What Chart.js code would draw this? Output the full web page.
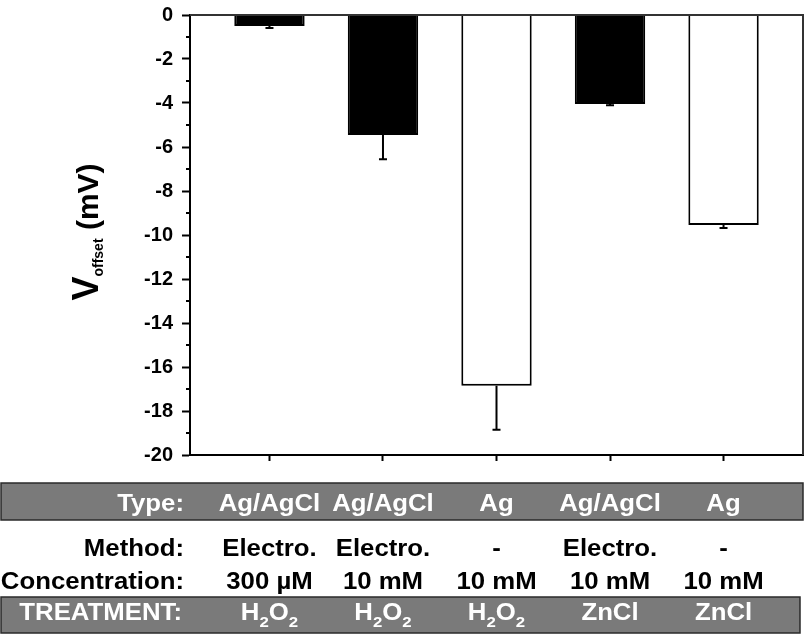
<!DOCTYPE html>
<html>
<head>
<meta charset="utf-8">
<script src="https://cdn.jsdelivr.net/npm/chart.js@4.4.0/dist/chart.umd.min.js"></script>
<style>
  html, body { margin: 0; padding: 0; background: #fff; }
</style>
</head>
<body>
<canvas id="bars" width="806" height="637"></canvas>
<script>
// bar positions on the x scale and their values (mV)
const positions = [1, 2, 3, 4, 5];
const offsets = [-0.5, -5.45, -16.85, -4.05, -9.55];
const errors = [0.09, 1.11, 2.0, 0.05, 0.13];
const barFills = ['#000', '#000', '#fff', '#000', '#fff'];

// table under the chart
const typeRow = ['Ag/AgCl', 'Ag/AgCl', 'Ag', 'Ag/AgCl', 'Ag'];
const methodRow = ['Electro.', 'Electro.', '-', 'Electro.', '-'];
const concRow = ['300 µM', '10 mM', '10 mM', '10 mM', '10 mM'];
const treatRow = ['H2O2', 'H2O2', 'H2O2', 'ZnCl', 'ZnCl'];

const FONT = '"Liberation Sans", Arial, sans-serif';
const SX = 1.12; // source text is a bit wide

function wideText(ctx, txt, x, y, align) {
    ctx.save();
    ctx.translate(x, y);
    ctx.scale(SX, 1);
    ctx.textAlign = align;
    ctx.fillText(txt, 0, 0);
    ctx.restore();
}

// chemical formula: digits drawn as subscripts
function formula(ctx, txt, cx, y) {
    const big = 'bold 23px ' + FONT, small = 'bold 15px ' + FONT;
    let w = 0;
    for (const ch of txt) {
        ctx.font = /\d/.test(ch) ? small : big;
        w += ctx.measureText(ch).width * SX;
    }
    let x = cx - w / 2;
    for (const ch of txt) {
        const sub = /\d/.test(ch);
        ctx.font = sub ? small : big;
        wideText(ctx, ch, x, sub ? y + 7 : y, 'left');
        x += ctx.measureText(ch).width * SX;
    }
}

const extras = {
    id: 'extras',
    afterDatasetsDraw(chart) {
        const ctx = chart.ctx, x = chart.scales.x, y = chart.scales.y;
        const area = chart.chartArea;
        ctx.save();
        // error bars (downward only)
        ctx.strokeStyle = '#000';
        ctx.lineWidth = 2;
        positions.forEach((p, i) => {
            const px = x.getPixelForValue(p);
            const y0 = y.getPixelForValue(offsets[i]);
            const y1 = y.getPixelForValue(offsets[i] - errors[i]);
            ctx.beginPath();
            ctx.moveTo(px, y0);
            ctx.lineTo(px, y1);
            ctx.moveTo(px - 4, y1);
            ctx.lineTo(px + 4, y1);
            ctx.stroke();
        });
        // minor ticks on y
        for (let v = -19; v < 0; v += 2) {
            const py = y.getPixelForValue(v);
            ctx.beginPath();
            ctx.moveTo(area.left - 4, py);
            ctx.lineTo(area.left, py);
            ctx.stroke();
        }
        // top and right frame
        ctx.strokeStyle = '#333';
        ctx.lineWidth = 2;
        ctx.beginPath();
        ctx.moveTo(area.left, area.top);
        ctx.lineTo(area.right, area.top);
        ctx.lineTo(area.right, area.bottom);
        ctx.stroke();
        ctx.restore();
    },
    afterDraw(chart) {
        const ctx = chart.ctx, x = chart.scales.x;
        const cols = positions.map(p => x.getPixelForValue(p));
        ctx.save();

        // y title: V_offset (mV), rotated
        ctx.translate(98, 232);
        ctx.rotate(-Math.PI / 2);
        ctx.fillStyle = '#000';
        ctx.textAlign = 'left';
        ctx.textBaseline = 'alphabetic';
        const parts = [['V', 'bold 36px ', 0], ['offset', 'bold 14px ', 5], [' (mV)', 'bold 30px ', 0]];
        let total = 0;
        parts.forEach(pt => { ctx.font = pt[1] + FONT; total += ctx.measureText(pt[0]).width; });
        let tx = -total / 2;
        parts.forEach(pt => {
            ctx.font = pt[1] + FONT;
            ctx.fillText(pt[0], tx, pt[2]);
            tx += ctx.measureText(pt[0]).width;
        });
        ctx.setTransform(1, 0, 0, 1, 0, 0);

        // gray bands
        ctx.fillStyle = '#7a7a7a';
        ctx.strokeStyle = '#2a2a2a';
        ctx.lineWidth = 1.5;
        ctx.fillRect(1, 483, 802, 37);
        ctx.strokeRect(1, 483, 802, 37);
        ctx.fillRect(1, 597, 799, 36);
        ctx.strokeRect(1, 597, 799, 36);

        ctx.font = 'bold 23px ' + FONT;
        ctx.textBaseline = 'alphabetic';
        const lx = 184;

        ctx.fillStyle = '#fff';
        wideText(ctx, 'Type:', lx, 511, 'right');
        typeRow.forEach((t, i) => wideText(ctx, t, cols[i], 511, 'center'));

        ctx.fillStyle = '#000';
        wideText(ctx, 'Method:', lx, 556, 'right');
        methodRow.forEach((t, i) => wideText(ctx, t, cols[i], 556, 'center'));
        wideText(ctx, 'Concentration:', lx, 589, 'right');
        concRow.forEach((t, i) => wideText(ctx, t, cols[i], 589, 'center'));

        ctx.fillStyle = '#fff';
        ctx.font = 'bold 23px ' + FONT;
        wideText(ctx, 'TREATMENT:', 182, 620, 'right');
        treatRow.forEach((t, i) => formula(ctx, t, cols[i], 620));
        ctx.restore();
    }
};

new Chart(document.getElementById('bars'), {
    type: 'bar',
    data: {
        datasets: [{
            data: positions.map((p, i) => ({x: p, y: offsets[i]})),
            backgroundColor: barFills,
            borderColor: '#000',
            borderWidth: 2,
            barPercentage: 0.62,
            categoryPercentage: 1,
        }]
    },
    options: {
        responsive: false,
        animation: false,
        devicePixelRatio: 1,
        layout: { padding: { top: 15, right: 3, left: 0, bottom: 0 } },
        plugins: { legend: { display: false }, tooltip: { enabled: false } },
        scales: {
            x: {
                type: 'linear',
                offset: false,
                min: 0.3,
                max: 5.7,
                afterBuildTicks: s => { s.ticks = positions.map(v => ({value: v})); },
                afterFit: s => { s.height = 182; s.paddingLeft = 0; s.paddingRight = 0; },
                ticks: { display: false },
                grid: { offset: false, drawOnChartArea: false, tickLength: 6, tickColor: '#000', tickWidth: 2 },
                border: { color: '#000', width: 2 },
            },
            y: {
                min: -20,
                max: 0,
                afterFit: s => { s.width = 190; s.paddingTop = 0; s.paddingBottom = 0; },
                ticks: {
                    stepSize: 1,
                    padding: 9,
                    color: '#000',
                    font: { family: FONT, size: 20, weight: 'bold' },
                    callback: v => (v % 2 === 0 ? v : ''),
                },
                grid: {
                    drawOnChartArea: false,
                    tickLength: 8,
                    tickWidth: 2,
                    tickColor: c => (c.tick.value % 2 === 0 ? '#000' : 'rgba(0,0,0,0)'),
                },
                border: { color: '#000', width: 2 },
            }
        }
    },
    plugins: [extras]
});
</script>
</body>
</html>
